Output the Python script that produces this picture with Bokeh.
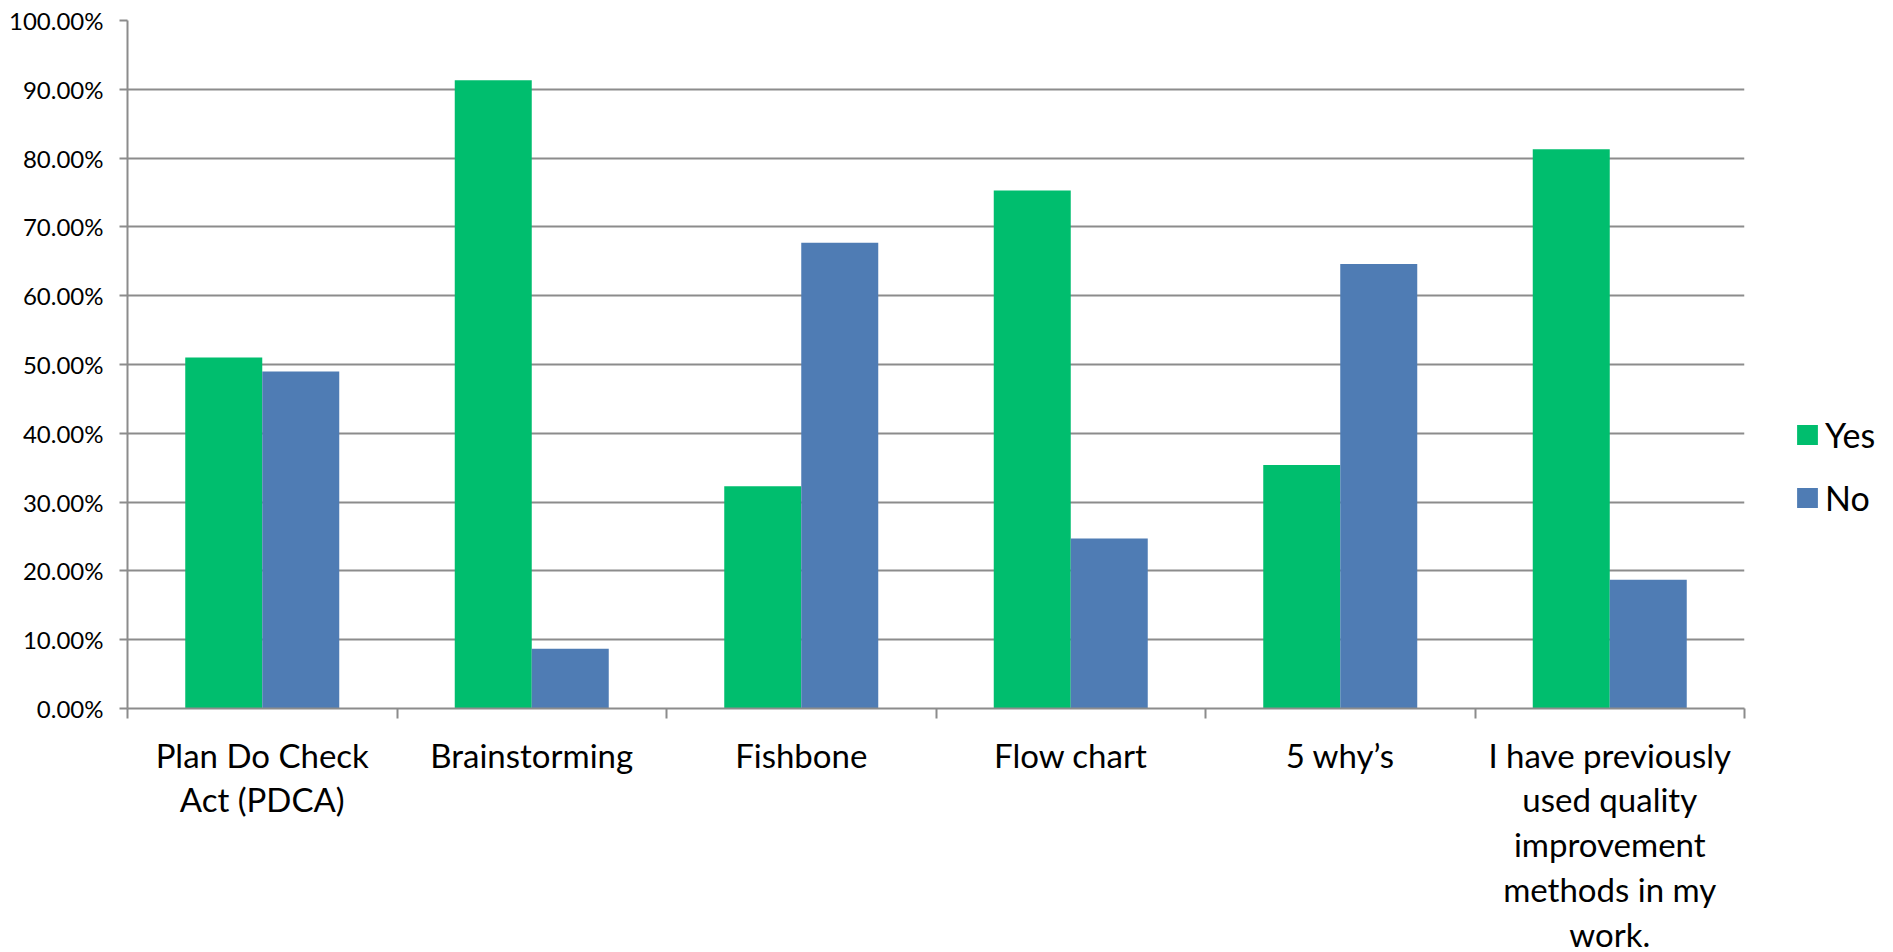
from bokeh.plotting import figure
from bokeh.models import (ColumnDataSource, Range1d, LinearAxis, FixedTicker,
                          PrintfTickFormatter, Legend, LegendItem)
from bokeh.transform import dodge
from bokeh.embed import file_html
from bokeh.resources import INLINE

# Survey responses: share of respondents per quality-improvement method
categories = ["Plan Do Check\nAct (PDCA)", "Brainstorming", "Fishbone", "Flow chart",
              "5 why\u2019s",
              "I have previously\nused quality\nimprovement\nmethods in my\nwork."]
yes_pct = [51.0, 91.3, 32.3, 75.3, 35.4, 81.3]
no_pct = [49.0, 8.7, 67.7, 24.7, 64.6, 18.7]
y_ticks = [0, 10, 20, 30, 40, 50, 60, 70, 80, 90, 100]

GREEN = "#00BE6E"
BLUE = "#4F7CB4"
GRID = "#8C8C8C"
FONT = "Lato"

n = len(categories)
centers = [i + 0.5 for i in range(n)]
bounds = list(range(n + 1))
source = ColumnDataSource(dict(x=centers, yes=yes_pct, no=no_pct))

p = figure(frame_width=1617, frame_height=688, output_backend="svg", toolbar_location=None,
           x_range=Range1d(0, n), y_range=Range1d(0, 100),
           x_axis_location=None, min_border_left=127, min_border_right=149,
           min_border_top=20, min_border_bottom=240)
p.outline_line_color = None
p.background_fill_color = "white"

bar_w = 1 / 3.5
r_yes = p.vbar(x=dodge("x", -bar_w / 2), top="yes", width=bar_w,
               source=source, fill_color=GREEN, line_color=None)
r_no = p.vbar(x=dodge("x", bar_w / 2), top="no", width=bar_w,
              source=source, fill_color=BLUE, line_color=None)

# y axis
yax = p.yaxis[0]
yax.ticker = FixedTicker(ticks=y_ticks)
yax.formatter = PrintfTickFormatter(format="%.2f%%")
yax.axis_line_color = GRID
yax.axis_line_width = 2
yax.major_tick_line_color = GRID
yax.major_tick_line_width = 2
yax.major_tick_out = 8
yax.major_tick_in = 0
yax.minor_tick_line_color = None
yax.major_label_standoff = 16
yax.major_label_text_font = FONT
yax.major_label_text_font_size = "24px"
yax.major_label_text_color = "#000000"

p.xgrid.grid_line_color = None
p.ygrid.ticker = FixedTicker(ticks=y_ticks)
p.ygrid.grid_line_color = GRID
p.ygrid.grid_line_width = 2

# category axis: labels centred under each group, short ticks on group boundaries
xax = LinearAxis(ticker=FixedTicker(ticks=centers, minor_ticks=bounds))
xax.major_label_overrides = {c: label for c, label in zip(centers, categories)}
xax.axis_line_color = GRID
xax.axis_line_width = 2
xax.major_tick_line_color = None
xax.major_tick_out = 0
xax.major_tick_in = 0
xax.minor_tick_line_color = GRID
xax.minor_tick_line_width = 2
xax.minor_tick_out = 10
xax.minor_tick_in = 0
xax.major_label_standoff = 16
xax.major_label_text_font = FONT
xax.major_label_text_font_size = "33px"
xax.major_label_text_color = "#000000"
xax.major_label_text_line_height = 1.12
p.add_layout(xax, "below")

legend = Legend(items=[LegendItem(label="Yes", renderers=[r_yes]),
                       LegendItem(label="No", renderers=[r_no])],
                location=(50, 190), orientation="vertical",
                glyph_width=26, glyph_height=25, label_height=25, spacing=22,
                label_standoff=5, padding=0, margin=0,
                border_line_color=None, background_fill_alpha=0,
                label_text_font=FONT, label_text_font_size="34px",
                label_text_color="#000000")
p.add_layout(legend, "right")

open("out.html", "w").write(file_html(p, INLINE))
